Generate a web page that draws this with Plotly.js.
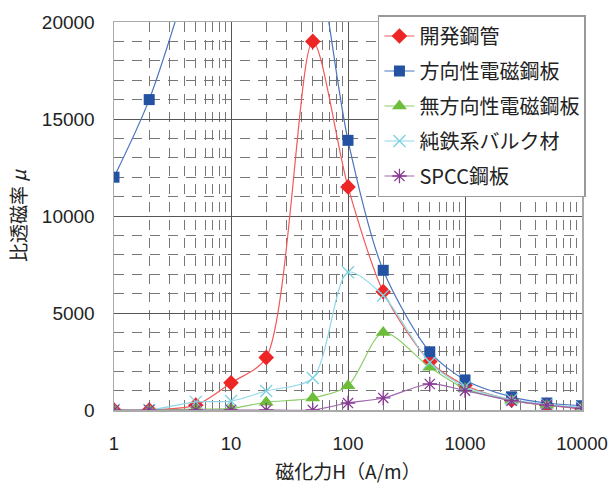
<!DOCTYPE html>
<html>
<head>
<meta charset="utf-8">
<script src="https://cdn.plot.ly/plotly-3.0.1.min.js"></script>
<style>html,body{margin:0;padding:0;background:#fff;}#chart{width:608px;height:490px;}</style>
</head>
<body>
<div id="chart"></div>
<script>
const H = [1, 2, 5, 10, 20, 50, 100, 200, 500, 1000, 2500, 5000, 10000];
const seriesNames = ['開発鋼管', '方向性電磁鋼板', '無方向性電磁鋼板', '純鉄系バルク材', 'SPCC鋼板'];
const kaihatsu = [0, 0, 250, 1400, 2700, 19000, 11500, 6100, 2500, 1280, 500, 250, 50];
const houkousei = [12000, 16000, 23500, 30000, 31000, 24500, 13900, 7200, 3000, 1550, 680, 360, 220];
const muhoukou = [0, 0, 50, 80, 400, 620, 1250, 4000, 2200, 1100, 500, 250, 100];
const juntetsu = [0, 0, 420, 460, 980, 1650, 7100, 5900, 2450, 1200, 550, 280, 150];
const spcc = [0, 0, 0, 0, 0, 0, 360, 620, 1340, 1000, 480, 250, 80];
const xTickVals = [1, 10, 100, 1000, 10000];
const xTickText = ['1', '10', '100', '1000', '10000'];
const yTickVals = [0, 5000, 10000, 15000, 20000];
const yTickText = ['0', '5000', '10000', '15000', '20000'];

const FONT = 'Liberation Sans, Arial, Noto Sans CJK JP, sans-serif';
const CJK = 'Noto Sans CJK JP, Liberation Sans, sans-serif';

function tr(i, y, mColor, lColor, symbol, size, thin) {
  const marker = {symbol: symbol, size: size, color: mColor};
  if (thin) marker.line = {color: mColor, width: 1.3};
  else marker.line = {width: 0};
  return {
    x: H, y: y, name: seriesNames[i], legendgroup: 'g' + i,
    type: 'scatter', mode: 'lines+markers',
    line: {color: lColor, width: 1.2, shape: 'spline', smoothing: 0.8},
    marker: marker, cliponaxis: true
  };
}

const data = [
  tr(0, kaihatsu, '#ee2525', '#f05a5a', 'diamond', 12, false),
  tr(1, houkousei, '#2352a3', '#4a74bf', 'square', 11, false),
  tr(2, muhoukou, '#6ebd3a', '#8ccd6a', 'triangle-up', 13, false),
  tr(3, juntetsu, '#7dd0e2', '#8fd8e8', 'x-thin-open', 12, true),
  tr(4, spcc, '#883a94', '#a066ae', 'asterisk-open', 12, true)
];

const layout = {
  width: 608, height: 490,
  margin: {l: 114, r: 26, t: 22, b: 80},
  paper_bgcolor: '#fff', plot_bgcolor: '#fff',
  font: {family: FONT, size: 19, color: '#222'},
  showlegend: true,
  legend: {
    x: 0.564, y: 1.018, xanchor: 'left', yanchor: 'top',
    bgcolor: '#fff', bordercolor: '#999', borderwidth: 1.5,
    font: {family: CJK, size: 20, color: '#222'},
    traceorder: 'grouped', tracegroupgap: 6
  },
  xaxis: {
    type: 'log', range: [0, 4], automargin: false,
    tickvals: xTickVals, ticktext: xTickText,
    tickfont: {size: 18.5},
    ticks: 'outside', ticklen: 16, tickcolor: 'rgba(0,0,0,0)',
    ticklabeloverflow: 'allow',
    showgrid: true, gridcolor: '#555', gridwidth: 1,
    minor: {dtick: 'D1', showgrid: true, gridcolor: '#777', griddash: '10px,8px', gridwidth: 1},
    showline: true, linecolor: '#aaa', linewidth: 1.5, mirror: true,
    zeroline: false,
    title: {text: '磁化力H（A/m）', font: {family: CJK, size: 19, color: '#222'}, standoff: 13}
  },
  yaxis: {
    range: [0, 20000], automargin: false,
    tickvals: yTickVals, ticktext: yTickText,
    ticks: 'outside', ticklen: 14, tickcolor: 'rgba(0,0,0,0)',
    showgrid: true, gridcolor: '#555', gridwidth: 1,
    minor: {dtick: 1000, showgrid: true, gridcolor: '#777', griddash: '10px,8px', gridwidth: 1},
    showline: true, linecolor: '#aaa', linewidth: 1.5, mirror: true,
    zeroline: false,
    title: {text: '比透磁率 <i>μ</i>', font: {family: CJK, size: 19, color: '#222'}, standoff: 10}
  }
};

Plotly.newPlot('chart', data, layout, {displayModeBar: false, staticPlot: true});
</script>
</body>
</html>
